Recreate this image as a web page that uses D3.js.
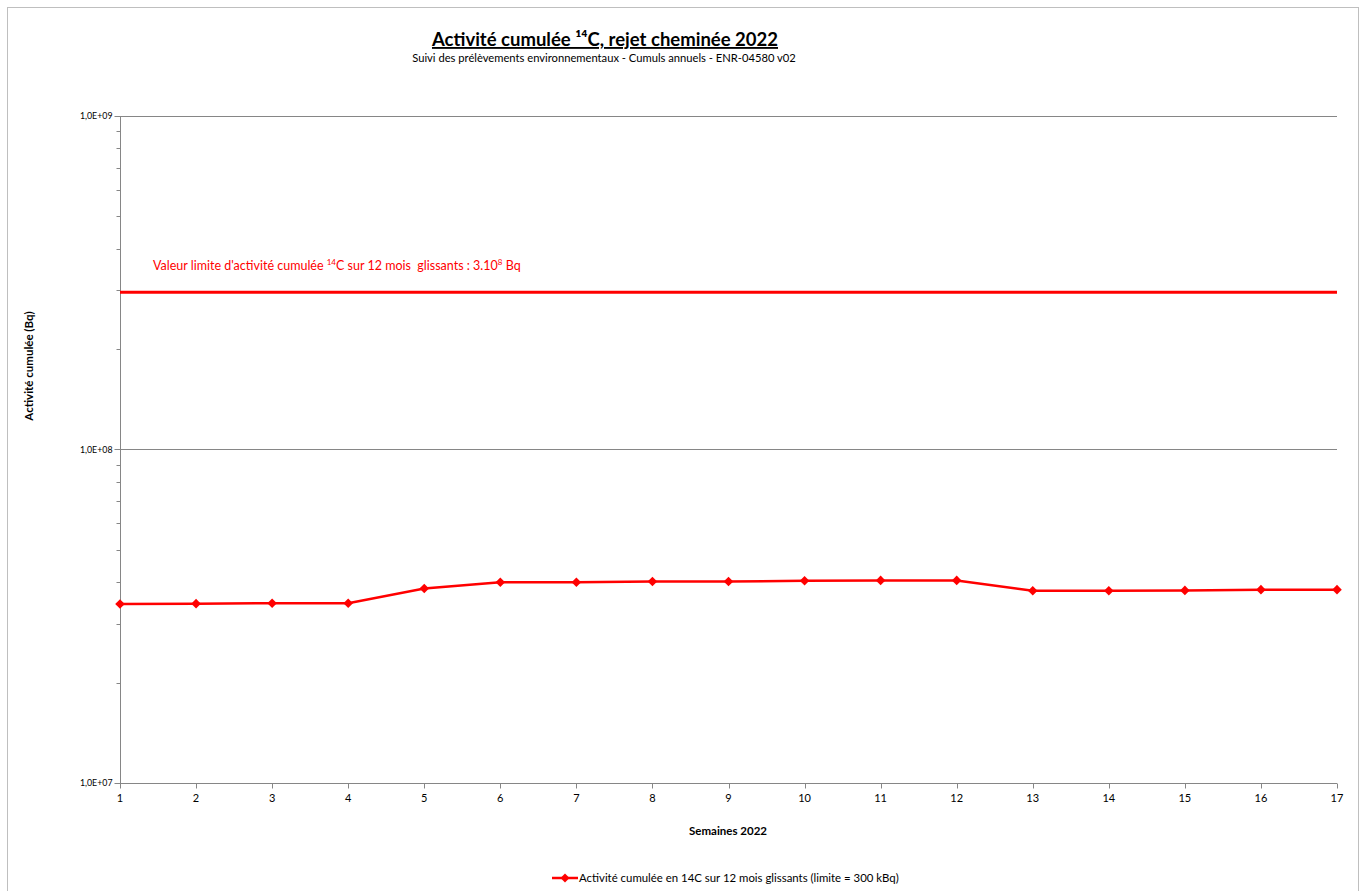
<!DOCTYPE html>
<html><head><meta charset="utf-8">
<script src="https://cdn.jsdelivr.net/npm/d3@7"></script>
<style>body{margin:0;background:#fff}svg{display:block;font-family:Lato,"Open Sans",sans-serif}</style>
</head><body><svg id="c" width="1361" height="891"></svg>
<script>
const weeks = [1,2,3,4,5,6,7,8,9,10,11,12,13,14,15,16,17];
const activite = [3.44e7,3.45e7,3.46e7,3.46e7,3.83e7,4.00e7,4.00e7,4.02e7,4.02e7,4.04e7,4.05e7,4.05e7,3.77e7,3.77e7,3.78e7,3.80e7,3.80e7];
const limite = 2.96e8;
const yMajorTicks = [1e7,1e8,1e9];
const yTickLabels = ["1,0E+07","1,0E+08","1,0E+09"];
const seriesName = "Activité cumulée en 14C sur 12 mois glissants (limite = 300 kBq)";

const svg = d3.select("#c");
const L=120,R=1337,T=116,B=783;
const x = d3.scaleLinear().domain([1,17]).range([L,R]);
const y = d3.scaleLog().domain([1e7,1e9]).range([B,T]);
const axisCol="#868686";

svg.append("rect").attr("x",7.5).attr("y",7.5).attr("width",1351).attr("height",900).attr("fill","none").attr("stroke","#bfbfbf");

svg.append("g").selectAll("line").data(yMajorTicks.slice(1)).join("line")
  .attr("x1",L).attr("x2",R).attr("y1",d=>Math.round(y(d))+0.5).attr("y2",d=>Math.round(y(d))+0.5)
  .attr("stroke",axisCol).attr("stroke-width",1);

const minor=[];
for(let e=7;e<9;e++) for(let m=2;m<=9;m++) minor.push(m*Math.pow(10,e));
const gy = svg.append("g").attr("transform",`translate(${L+0.5},0)`);
gy.append("line").attr("y1",T).attr("y2",B).attr("stroke",axisCol);
gy.selectAll(".mj").data(yMajorTicks).join("line").attr("x1",-6).attr("x2",0)
  .attr("y1",d=>Math.round(y(d))+0.5).attr("y2",d=>Math.round(y(d))+0.5).attr("stroke",axisCol);
gy.selectAll(".mn").data(minor).join("line").attr("x1",-4).attr("x2",0)
  .attr("y1",d=>Math.round(y(d))+0.5).attr("y2",d=>Math.round(y(d))+0.5).attr("stroke",axisCol);
gy.selectAll("text").data(yMajorTicks).join("text").attr("x",-8).attr("y",d=>y(d)+3)
  .attr("text-anchor","end").attr("font-size",8.8).attr("fill","#000").text((d,i)=>yTickLabels[i]);

const gx = svg.append("g").attr("transform",`translate(0,${B+0.5})`);
gx.append("line").attr("x1",L).attr("x2",R).attr("stroke",axisCol);
gx.selectAll("line.t").data(weeks).join("line").attr("class","t")
  .attr("x1",d=>Math.round(x(d))+0.5).attr("x2",d=>Math.round(x(d))+0.5).attr("y1",0).attr("y2",5).attr("stroke",axisCol);
gx.selectAll("text").data(weeks).join("text").attr("x",d=>x(d)).attr("y",18)
  .attr("text-anchor","middle").attr("font-size",11).attr("fill","#000").text(d=>d);

svg.append("line").attr("x1",L).attr("x2",R).attr("y1",y(limite)).attr("y2",y(limite))
  .attr("stroke","#ff0000").attr("stroke-width",3);
const ann = svg.append("text").attr("x",153).attr("y",270).attr("font-size",12.5).attr("fill","#ff0000").style("white-space","pre");
ann.append("tspan").text("Valeur limite d'activité cumulée ");
ann.append("tspan").attr("font-size",8).attr("dy",-5).text("14");
ann.append("tspan").attr("dy",5).text("C sur 12 mois  glissants : 3.10");
ann.append("tspan").attr("font-size",8).attr("dy",-5).text("8");
ann.append("tspan").attr("dy",5).text(" Bq");

const line = d3.line().x(d=>x(d[0])).y(d=>y(d[1]));
const pts = weeks.map((w,i)=>[w,activite[i]]);
svg.append("path").datum(pts).attr("d",line).attr("fill","none").attr("stroke","#ff0000").attr("stroke-width",2.5);
svg.append("g").selectAll("path").data(pts).join("path")
  .attr("transform",d=>`translate(${x(d[0])},${y(d[1])}) rotate(45)`).attr("d",d3.symbol().type(d3.symbolSquare).size(46)).attr("fill","#ff0000");

svg.append("text").attr("x",605).attr("y",46).attr("text-anchor","middle").attr("font-size",18.5).attr("font-weight","bold")
  .attr("text-decoration","underline").attr("fill","#000").text("Activité cumulée ¹⁴C, rejet cheminée 2022");
svg.append("text").attr("x",604).attr("y",62).attr("text-anchor","middle").attr("font-size",11.2).attr("fill","#000")
  .text("Suivi des prélèvements environnementaux - Cumuls annuels - ENR-04580 v02");
svg.append("text").attr("transform","translate(33,366) rotate(-90)").attr("text-anchor","middle").attr("font-size",11.5).attr("font-weight","bold")
  .text("Activité cumulée (Bq)");
svg.append("text").attr("x",728).attr("y",835).attr("text-anchor","middle").attr("font-size",11.5).attr("font-weight","bold")
  .text("Semaines 2022");

const lg = svg.append("g").attr("transform","translate(0,878)");
lg.append("line").attr("x1",552).attr("x2",578).attr("stroke","#ff0000").attr("stroke-width",2.5);
lg.append("path").attr("transform","translate(565,0) rotate(45)").attr("d",d3.symbol().type(d3.symbolSquare).size(40)).attr("fill","#ff0000");
lg.append("text").attr("x",579).attr("y",4).attr("font-size",11.4).text(seriesName);
</script></body></html>
